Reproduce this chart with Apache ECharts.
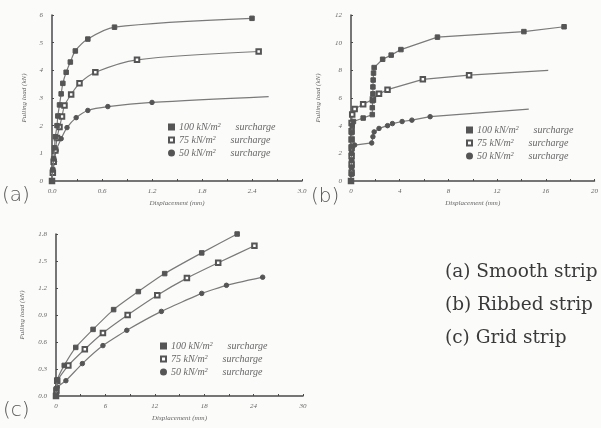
<!DOCTYPE html>
<html><head><meta charset="utf-8">
<script src="https://cdn.jsdelivr.net/npm/echarts@6/dist/echarts.min.js"></script>
<style>html,body{margin:0;padding:0;background:#fbfbfa}#c{width:601px;height:428px}</style>
</head><body><div id="c"></div>
<script>
// ---------- data ----------
const seriesNames = ['100 kN/m² surcharge', '75 kN/m² surcharge', '50 kN/m² surcharge'];
const panelLabels = ['(a)', '(b)', '(c)'];
const captionLines = ['(a) Smooth strip', '(b) Ribbed strip', '(c) Grid strip'];
const yAxisTitle = 'Pulling load (kN)';
const xAxisTitle = 'Displacement (mm)';

// (a) smooth strip
const aTicksX = [0, 0.6, 1.2, 1.8, 2.4, 3.0];
const aTicksY = [0, 1, 2, 3, 4, 5, 6];
const a100 = [[0,0],[0.01,0.4],[0.02,0.8],[0.03,1.2],[0.04,1.6],[0.06,2.0],[0.07,2.35],[0.09,2.75],[0.11,3.15],[0.13,3.53],[0.17,3.93],[0.22,4.3],[0.28,4.7],[0.43,5.13],[0.75,5.56],[2.4,5.88]];
const a75  = [[0,0],[0.01,0.3],[0.02,0.7],[0.04,1.1],[0.06,1.55],[0.09,1.95],[0.12,2.33],[0.15,2.73],[0.23,3.13],[0.33,3.53],[0.52,3.93],[1.02,4.38],[2.48,4.68]];
const a50  = [[0,0],[0.01,0.3],[0.03,0.7],[0.05,1.1],[0.11,1.53],[0.18,1.93],[0.29,2.29],[0.43,2.55],[0.67,2.69],[1.2,2.84],[2.6,3.05]];

// (b) ribbed strip
const bTicksX = [0, 4, 8, 12, 16, 20];
const bTicksY = [0, 2, 4, 6, 8, 10, 12];
const b100 = [[0,0],[0.05,0.5],[0.05,1.0],[0.05,1.5],[0.05,2.0],[0.05,2.5],[0.05,3.0],[0.06,3.5],[0.1,4.0],[0.2,4.3],[1.0,4.55],[1.75,4.8],[1.75,5.3],[1.78,5.8],[1.8,6.3],[1.8,6.8],[1.82,7.3],[1.85,7.8],[1.9,8.2],[2.6,8.8],[3.3,9.1],[4.1,9.5],[7.1,10.4],[14.2,10.8],[17.5,11.15]];
const b75  = [[0,0],[0.05,0.6],[0.05,1.2],[0.05,1.8],[0.05,2.4],[0.05,3.0],[0.05,3.6],[0.05,4.2],[0.1,4.8],[0.3,5.2],[1.0,5.55],[1.8,5.9],[2.3,6.3],[3.0,6.6],[5.9,7.35],[9.7,7.65],[16.2,8.0]];
const b50  = [[0,0],[0.05,0.5],[0.05,1.0],[0.05,1.5],[0.05,2.0],[0.1,2.4],[0.3,2.6],[1.7,2.75],[1.8,3.2],[1.9,3.55],[2.3,3.8],[3.0,4.0],[3.4,4.15],[4.2,4.3],[5.0,4.4],[6.5,4.65],[14.6,5.2]];

// (c) grid strip
const cTicksX = [0, 6, 12, 18, 24, 30];
const cTicksY = [0, 0.3, 0.6, 0.9, 1.2, 1.5, 1.8];
const c100 = [[0,0],[0.05,0.08],[0.15,0.18],[1.0,0.34],[2.4,0.54],[4.5,0.74],[7.0,0.96],[10.0,1.16],[13.2,1.36],[17.7,1.59],[22.0,1.8]];
const c75  = [[0,0],[0.05,0.06],[0.15,0.17],[1.5,0.34],[3.5,0.52],[5.7,0.7],[8.7,0.9],[12.3,1.12],[15.9,1.31],[19.7,1.48],[24.1,1.67]];
const c50  = [[0,0],[0.05,0.04],[0.15,0.1],[1.2,0.17],[3.2,0.36],[5.7,0.56],[8.6,0.73],[12.8,0.94],[17.7,1.14],[20.7,1.23],[25.1,1.32]];

// ---------- chart ----------
const chart = echarts.init(document.getElementById('c'), null, {renderer: 'canvas'});
const LINE = '#7a7a7a', MARK = '#555', AX = '#4a4a4a', TXT = '#666';
const symbols = ['rect', 'emptyRect', 'circle'];
const symSizes = [4.5, 4.5, 4.5];

const grids = [
  {left: 52, top: 15, width: 250, height: 166},
  {left: 351, top: 15, width: 249, height: 166},
  {left: 56, top: 234, width: 247, height: 162}
];
const ticksX = [aTicksX, bTicksX, cTicksX];
const ticksY = [aTicksY, bTicksY, cTicksY];
const xDec = [1, 0, 0], yDec = [0, 0, 1];
const yGap = [24, 29, 30];
const panelData = [[a100, a75, a50], [b100, b75, b50], [c100, c75, c50]];
const smooth = [0.3, false, 0.12];
const noEndMark = [[false, false, true], [false, true, true], [false, false, false]];

const axisLabelStyle = {color: TXT, fontSize: 7, fontStyle: 'italic', fontFamily: 'Liberation Serif'};
const xAxis = [], yAxis = [], series = [], legend = [];
grids.forEach((g, i) => {
  const tx = ticksX[i], ty = ticksY[i];
  xAxis.push({
    type: 'value', gridIndex: i, min: tx[0], max: tx[tx.length - 1], interval: tx[1] - tx[0],
    name: xAxisTitle, nameLocation: 'middle', nameGap: 19,
    nameTextStyle: {color: TXT, fontSize: 7, fontStyle: 'italic', fontFamily: 'Liberation Serif'},
    axisLine: {show: true, lineStyle: {color: AX, width: 1.5}},
    axisTick: {show: true, inside: true, length: 2, lineStyle: {color: AX}},
    minorTick: {show: true, splitNumber: 2, length: 2, lineStyle: {color: AX}},
    splitLine: {show: false},
    axisLabel: Object.assign({margin: 7, formatter: v => v.toFixed(xDec[i])}, axisLabelStyle)
  });
  yAxis.push({
    type: 'value', gridIndex: i, min: ty[0], max: ty[ty.length - 1], interval: ty[1] - ty[0],
    name: yAxisTitle, nameLocation: 'middle', nameGap: yGap[i], nameRotate: 90,
    nameTextStyle: {color: TXT, fontSize: 7, fontStyle: 'italic', fontFamily: 'Liberation Serif'},
    axisLine: {show: true, lineStyle: {color: AX, width: 1.5}},
    axisTick: {show: true, inside: true, length: 2, lineStyle: {color: AX}},
    splitLine: {show: false},
    axisLabel: Object.assign({margin: 9, formatter: v => v.toFixed(yDec[i])}, axisLabelStyle)
  });
  panelData[i].forEach((d, k) => {
    const last = d.length - 1;
    series.push({
      type: 'line', name: seriesNames[k], xAxisIndex: i, yAxisIndex: i,
      data: d, smooth: smooth[i],
      symbol: (v, p) => (noEndMark[i][k] && p.dataIndex === last) ? 'none' : symbols[k],
      symbolSize: symSizes[k], showAllSymbol: true,
      lineStyle: {color: LINE, width: 1.2},
      itemStyle: {color: MARK, borderColor: MARK, borderWidth: 1},
      emphasis: {disabled: true}, animation: false, z: 3 - k
    });
  });
});

const legendPos = [{left: 163, top: 117}, {left: 461, top: 120}, {left: 155, top: 336}];
legendPos.forEach(p => {
  legend.push({
    left: p.left, top: p.top, orient: 'vertical', itemGap: 3, itemWidth: 5, itemHeight: 5,
    selectedMode: false,
    data: seriesNames.map((n, k) => ({name: n, icon: symbols[k]})),
    formatter: n => n.replace(' surcharge', '      surcharge'),
    textStyle: {color: TXT, fontSize: 10, fontStyle: 'italic', fontFamily: 'Liberation Serif'}
  });
});

const labelFont = '200 20px "DejaVu Sans", sans-serif';
const graphic = [
  {type: 'text', left: 2, top: 186, style: {text: panelLabels[0], font: labelFont, fill: '#555'}},
  {type: 'text', left: 311, top: 187, style: {text: panelLabels[1], font: labelFont, fill: '#555'}},
  {type: 'text', left: 3, top: 401, style: {text: panelLabels[2], font: labelFont, fill: '#555'}}
];
captionLines.forEach((t, k) => {
  graphic.push({type: 'text', left: 445, top: 263 + k * 33, style: {text: t, font: '18.5px "DejaVu Serif", serif', fill: '#3a3a3a'}});
});

chart.setOption({
  backgroundColor: '#fbfbfa',
  animation: false,
  grid: grids.map(g => Object.assign({containLabel: false}, g)),
  xAxis, yAxis, series, legend, graphic
});
</script></body></html>
